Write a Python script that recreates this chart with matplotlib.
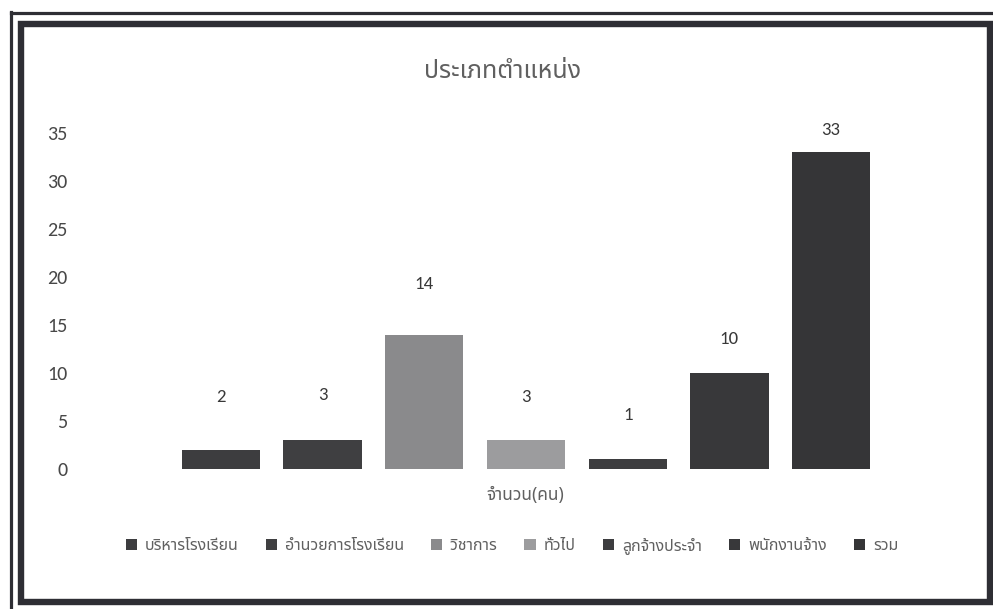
import matplotlib
matplotlib.use("Agg")
import matplotlib.pyplot as plt
from matplotlib.patches import Rectangle
from matplotlib.lines import Line2D

# ---- data ----
title = "ประเภทตำแหน่ง"
axis_label = "จำนวน(คน)"
categories = ["บริหารโรงเรียน", "อำนวยการโรงเรียน", "วิชาการ", "ทั่วไป",
              "ลูกจ้างประจำ", "พนักงานจ้าง", "รวม"]
counts = [2, 3, 14, 3, 1, 10, 33]
y_ticks = [0, 5, 10, 15, 20, 25, 30, 35]

# ---- styling ----
bar_colors = ["#3d3d3f", "#3f3f41", "#8a8a8c", "#9c9c9e", "#3d3d3f", "#38383a", "#353537"]
label_lift_px = [53, 45, 51, 43, 44, 34, 22]   # how far each value label sits above its bar
thai_font = ["Noto Sans Thai", "Sarabun", "Athiti", "DejaVu Sans"]
num_font = ["Carlito", "Lato", "DejaVu Sans"]
frame_color = "#2e2e34"
text_gray = "#606060"

W, H = 993, 609
fig = plt.figure(figsize=(W / 100, H / 100), dpi=100)
fig.patch.set_facecolor("white")


def fx(px):
    return px / W


def fy(py):
    return 1 - py / H


# plot area
ax_left, ax_right = 80, 972
ax_bottom, ax_top = 469, 133
ax = fig.add_axes([fx(ax_left), fy(ax_bottom), fx(ax_right - ax_left), (ax_bottom - ax_top) / H])

bars = []
for i, (cat, val) in enumerate(zip(categories, counts)):
    b = ax.bar(i, val, width=0.77, color=bar_colors[i], label=cat, zorder=2)
    bars.append(b)
    ax.annotate(str(val), xy=(i, val), xytext=(0, label_lift_px[i] * 0.72),
                textcoords="offset points", ha="center", va="center",
                fontsize=13.5, color="#383838", family=num_font)

ax.set_xlim(-1.386, 7.386)
ax.set_ylim(0, 35)
ax.set_yticks(y_ticks)
ax.set_yticklabels([str(t) for t in y_ticks], family=num_font, fontsize=14.5, color="#484848")
ax.set_xticks([])
ax.tick_params(axis="y", length=0, pad=9)
for s in ax.spines.values():
    s.set_visible(False)
ax.set_facecolor("none")

# title and axis label
fig.text(fx(503), fy(72), title, ha="center", va="center",
         fontsize=18, color=text_gray, family=thai_font)
fig.text(fx(525), fy(495), axis_label, ha="center", va="center",
         fontsize=12.5, color=text_gray, family=thai_font)

# legend
leg = fig.legend(handles=[b.patches[0] for b in bars], labels=categories,
                 loc="center", bbox_to_anchor=(fx(512), fy(546)), ncol=7,
                 frameon=False, handlelength=0.7, handleheight=0.7,
                 handletextpad=0.5, columnspacing=1.7,
                 prop={"family": thai_font, "size": 11.5})
for t in leg.get_texts():
    t.set_color(text_gray)

# double frame around the chart
fig.add_artist(Line2D([fx(11), fx(11)], [fy(12), fy(H + 5)], transform=fig.transFigure,
                      color=frame_color, lw=2.3))
fig.add_artist(Line2D([fx(11), fx(W + 5)], [fy(12.5), fy(12.5)], transform=fig.transFigure,
                      color=frame_color, lw=2.3))
fig.add_artist(Rectangle((fx(20.5), fy(601.5)), fx(990 - 20.5), (601.5 - 23.5) / H,
                         transform=fig.transFigure, fill=False,
                         edgecolor=frame_color, lw=4.6))

fig.savefig("out.png", dpi=100, facecolor="white")
